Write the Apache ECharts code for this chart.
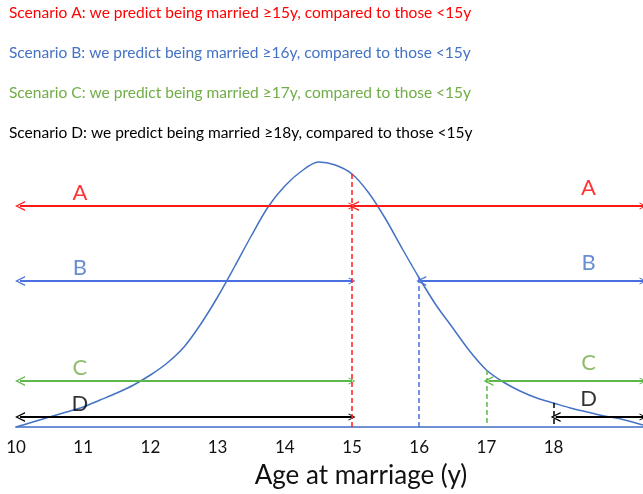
<!DOCTYPE html>
<html>
<head>
<meta charset="utf-8">
<script src="https://cdn.jsdelivr.net/npm/echarts@6/dist/echarts.min.js"></script>
<style>
  html, body { margin: 0; padding: 0; background: #fff; }
  #main { width: 643px; height: 494px; }
</style>
</head>
<body>
<div id="main"></div>
<script>
// distribution of age at marriage (height of the curve, arbitrary units)
var ages = [10, 10.25, 10.5, 10.75, 11, 11.25, 11.5, 11.75, 12, 12.25, 12.5, 12.75, 13, 13.25, 13.5, 13.75,
  14, 14.25, 14.5, 14.75, 15, 15.25, 15.5, 15.75, 16, 16.25, 16.5, 16.75, 17, 17.25, 17.5, 17.75,
  18, 18.25, 18.5, 18.75, 19, 19.33];
var density = [0, 5, 10, 15, 20, 27, 34, 42, 52, 64, 80, 103, 130, 160, 191, 220,
  241, 256, 265, 262, 253, 234, 208, 178, 149, 122, 99, 76, 57, 45, 36, 29,
  24, 19, 15, 11, 8, 2];

var tickLabels = ['10', '11', '12', '13', '14', '15', '16', '17', '18'];

var scenarios = ['A', 'B', 'C', 'D'];
var cutoffs = [15, 16, 17, 18];          // "married >= cutoff"
var refCut = 15;                          // "compared to those < 15"
var arrowLevel = [221, 146, 46, 10];      // height of each scenario's arrows
var leftStart = 10.06;
var rightEnd = 19.33;
var letterLeft = 10.95;
var letterRight = 18.52;

var colors = ['#ff1a1a', '#4a6fe0', '#5db84a', '#000000'];
var textColors = ['#ff0000', '#4472c4', '#70ad47', '#000000'];
var titles = [
  'Scenario A: we predict being married \u226515y, compared to those <15y',
  'Scenario B: we predict being married \u226516y, compared to those <15y',
  'Scenario C: we predict being married \u226517y, compared to those <15y',
  'Scenario D: we predict being married \u226518y, compared to those <15y'
];

var FONT = 'Lato, "Open Sans", sans-serif';
var chev = 'path://M0,10 L5,0 L10,10 L8.6,10 L5,2.6 L1.4,10 Z';

var chart = echarts.init(document.getElementById('main'));

function curveAt(a) {
  return density[ages.indexOf(a)];
}

var titleList = titles.map(function (t, i) {
  return {
    text: t,
    left: 9,
    top: 5 + i * 40,
    padding: 0,
    textStyle: { color: textColors[i], fontSize: 15.5, fontWeight: 'normal', fontFamily: FONT }
  };
});

var series = [{
  name: 'curve',
  type: 'line',
  data: ages.map(function (a, i) { return [a, density[i]]; }),
  smooth: 0.3,
  showSymbol: false,
  lineStyle: { color: '#4472c4', width: 1.5 },
  z: 3
}];

scenarios.forEach(function (s, i) {
  series.push({
    name: 'arrows ' + s,
    type: 'lines',
    coordinateSystem: 'cartesian2d',
    symbol: [chev, chev],
    symbolSize: [10, 7],
    lineStyle: { color: colors[i], width: 1.8, opacity: 1 },
    data: [
      { coords: [[leftStart, arrowLevel[i]], [refCut, arrowLevel[i]]] },
      { coords: [[cutoffs[i] + 0.03, arrowLevel[i]], [rightEnd, arrowLevel[i]]] }
    ],
    z: 4
  });
  series.push({
    name: 'cut ' + s,
    type: 'lines',
    coordinateSystem: 'cartesian2d',
    symbol: 'none',
    lineStyle: { color: colors[i], width: 1.5, type: [5, 3], opacity: 1 },
    data: [{ coords: [[cutoffs[i], curveAt(cutoffs[i])], [cutoffs[i], 0]] }],
    z: 5
  });
  series.push({
    name: 'letters ' + s,
    type: 'scatter',
    symbolSize: 0,
    silent: true,
    data: [
      { value: [letterLeft, arrowLevel[i]], label: { distance: 2 } },
      { value: [letterRight, arrowLevel[i]], label: { distance: 7 } }
    ],
    label: {
      show: true,
      position: 'top',
      formatter: s,
      color: textColors[i],
      fontSize: 22,
      fontFamily: FONT
    },
    z: 6
  });
});

var option = {
  backgroundColor: '#ffffff',
  animation: false,
  title: titleList,
  grid: { left: 16, right: 0, top: 127, bottom: 67, containLabel: false },
  xAxis: {
    type: 'value',
    min: 10,
    max: rightEnd,
    interval: 1,
    name: 'Age at marriage (y)',
    nameLocation: 'middle',
    nameGap: 36,
    nameTextStyle: { fontSize: 26, color: '#111', fontFamily: FONT, padding: [0, 0, 0, 63] },
    axisLine: { show: true, lineStyle: { color: '#6f8fd3', width: 2 } },
    axisTick: { show: false },
    splitLine: { show: false },
    axisLabel: {
      margin: 12,
      fontSize: 17,
      color: '#111',
      fontFamily: FONT,
      showMaxLabel: false,
      formatter: function (v) {
        var t = String(Math.round(v));
        return tickLabels.indexOf(t) >= 0 && Math.abs(v - Math.round(v)) < 1e-6 ? t : '';
      }
    }
  },
  yAxis: { type: 'value', min: 0, max: 300, show: false },
  series: series
};

chart.setOption(option);
</script>
</body>
</html>
